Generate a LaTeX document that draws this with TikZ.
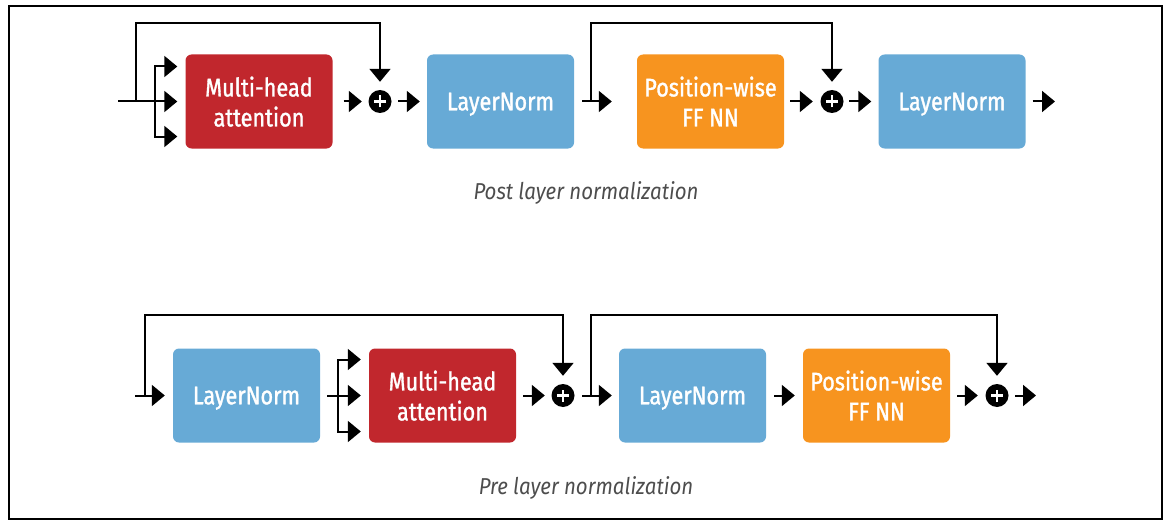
\documentclass[tikz,border=0pt]{standalone}
\usepackage{fontspec}
\setmainfont{Fira Sans}[FakeStretch=0.89]
\newfontfamily\boxfont{Fira Sans}[FakeStretch=0.85, FakeBold=1.3]
\usetikzlibrary{arrows.meta}
\definecolor{mhared}{HTML}{C1272D}
\definecolor{lnblue}{HTML}{67AAD6}
\definecolor{fforange}{HTML}{F7941F}
\definecolor{capgray}{HTML}{4D4D4D}
\begin{document}
\begin{tikzpicture}[x=1pt,y=-1pt,
 blk/.style={rounded corners=6pt, minimum width=147pt, minimum height=94pt, inner sep=0pt, text=white, font=\boxfont\fontsize{25.5}{30}\selectfont, align=center, text depth=0pt},
 mhab/.style={blk, fill=mhared},
 lnb/.style={blk, fill=lnblue},
 ffb/.style={blk, fill=fforange},
 addc/.style={circle, fill=black, minimum size=23pt, inner sep=0pt,
   path picture={
     \draw[white, line width=2.6pt] ([xshift=-6pt]path picture bounding box.center) -- ([xshift=6pt]path picture bounding box.center);
     \draw[white, line width=2.6pt] ([yshift=-6pt]path picture bounding box.center) -- ([yshift=6pt]path picture bounding box.center);}},
 wire/.style={line width=2pt},
 arr/.style={wire, -{Triangle[length=13pt,width=21pt]}},
 captxt/.style={font=\itshape\fontsize{23}{26}\selectfont, text=capgray}
]
\useasboundingbox (0,0) rectangle (1171,527);
\draw[line width=1.5pt] (9,6) rectangle (1162,519);

% ---------- Post layer normalization ----------
\node[mhab] (mha1) at (259,101.5) {Multi-head\\attention};
\node[addc] (p1) at (380,101.5) {};
\node[lnb] (ln1) at (500.5,101.5) {LayerNorm};
\node[ffb] (ff1) at (710.5,101.5) {Position-wise\\FF NN};
\node[addc] (p2) at (832,101.5) {};
\node[lnb] (ln2) at (952,101.5) {LayerNorm};
\coordinate (in1) at (118,101.5);
\coordinate (s1) at (136,101.5);
\coordinate (b1) at (155,101.5);
\coordinate (s2) at (591,101.5);
\coordinate (out1) at (1055,101.5);

\draw[arr, shorten >=8pt] (in1) -- (mha1.west);
\draw[arr, shorten >=8pt] (b1) |- ([yshift=35pt]mha1.west);
\draw[arr, shorten >=8pt] (b1) |- ([yshift=-35pt]mha1.west);
\draw[arr, shorten >=8pt] (s1) -- ++(0,-78.5) -| (p1.north);
\draw[arr, shorten <=11pt, shorten >=6.5pt] (mha1.east) -- (p1.west);
\draw[arr, shorten <=6.5pt, shorten >=7pt] (p1.east) -- (ln1.west);
\draw[arr, shorten <=8pt, shorten >=25pt] (ln1.east) -- (ff1.west);
\draw[arr, shorten >=8pt] (s2) -- ++(0,-78.5) -| (p2.north);
\draw[arr, shorten <=6pt, shorten >=7.5pt] (ff1.east) -- (p2.west);
\draw[arr, shorten <=5.5pt, shorten >=7pt] (p2.east) -- (ln2.west);
\draw[arr, shorten <=7pt] (ln2.east) -- (out1);

\node[captxt] (c1) at (586,193) {Post layer normalization};

% ---------- Pre layer normalization ----------
\node[lnb] (ln3) at (246.5,395.5) {LayerNorm};
\node[mhab] (mha2) at (442.5,395.5) {Multi-head\\attention};
\node[addc] (p3) at (563,395.5) {};
\node[lnb] (ln4) at (692.5,395.5) {LayerNorm};
\node[ffb] (ff2) at (876.5,395.5) {Position-wise\\FF NN};
\node[addc] (p4) at (997,395.5) {};
\coordinate (in2) at (135,395.5);
\coordinate (s3) at (145,395.5);
\coordinate (b2) at (338,395.5);
\coordinate (s4) at (591,395.5);
\coordinate (out2) at (1036,395.5);

\draw[arr, shorten >=8pt] (in2) -- (ln3.west);
\draw[arr, shorten >=8pt] (s3) -- ++(0,-80.5) -| (p3.north);
\draw[arr, shorten <=7pt, shorten >=8pt] (ln3.east) -- (mha2.west);
\draw[arr, shorten >=8pt] (b2) |- ([yshift=36pt]mha2.west);
\draw[arr, shorten >=8pt] (b2) |- ([yshift=-36pt]mha2.west);
\draw[arr, shorten <=7pt, shorten >=6.5pt] (mha2.east) -- (p3.west);
\draw[arr, shorten <=7.5pt, shorten >=7pt] (p3.east) -- (ln4.west);
\draw[arr, shorten >=8pt] (s4) -- ++(0,-80.5) -| (p4.north);
\draw[arr, shorten <=8pt, shorten >=8pt] (ln4.east) -- (ff2.west);
\draw[arr, shorten <=7pt, shorten >=7.5pt] (ff2.east) -- (p4.west);
\draw[arr, shorten <=6.5pt] (p4.east) -- (out2);

\node[captxt] (c2) at (586,488) {Pre layer normalization};
\end{tikzpicture}
\end{document}
